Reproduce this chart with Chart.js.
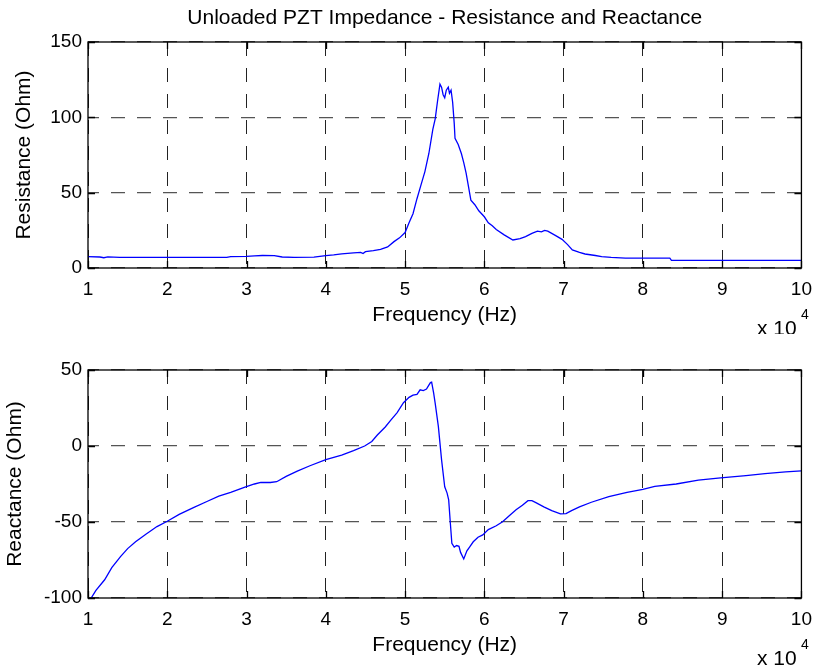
<!DOCTYPE html>
<html>
<head>
<meta charset="utf-8">
<script src="https://cdn.jsdelivr.net/npm/chart.js@4.4.1/dist/chart.umd.min.js"></script>
<style>
  html, body { margin: 0; padding: 0; background: #fff; }
  .panel { position: absolute; left: 0; width: 822px; height: 334px; }
</style>
</head>
<body>
<div class="panel" style="top:0"><canvas id="resChart" width="822" height="334"></canvas></div>
<div class="panel" style="top:334px"><canvas id="reacChart" width="822" height="334"></canvas></div>
<script>
// frequency in units of 10^4 Hz
const freqTicks = [1, 2, 3, 4, 5, 6, 7, 8, 9, 10];
const resTicks = [0, 50, 100, 150];
const reacTicks = [-100, -50, 0, 50];

const resFreq = [1.00, 1.15, 1.20, 1.25, 1.40, 1.60, 2.00, 2.40, 2.75, 2.80, 3.00, 3.10, 3.20, 3.35, 3.45, 3.60, 3.85, 4.00, 4.10, 4.20,
  4.35, 4.44, 4.47, 4.50, 4.60, 4.69, 4.78, 4.86, 4.93, 5.00, 5.05, 5.10, 5.15, 5.20, 5.25, 5.30, 5.35, 5.38, 5.41, 5.44,
  5.46, 5.48, 5.50, 5.52, 5.545, 5.56, 5.58, 5.60, 5.62, 5.63, 5.67, 5.71, 5.74, 5.77, 5.80, 5.83, 5.88, 5.93, 6.00, 6.05,
  6.10, 6.15, 6.25, 6.36, 6.45, 6.52, 6.60, 6.67, 6.72, 6.76, 6.80, 6.90, 6.98, 7.05, 7.11, 7.20, 7.27, 7.40, 7.48, 7.60,
  7.78, 8.00, 8.34, 8.36, 9.00, 10.00];
const resistance = [7.5, 7.3, 6.8, 7.4, 7.1, 7.0, 7.0, 7.0, 7.0, 7.5, 7.7, 8.0, 8.3, 8.2, 7.3, 7.0, 7.2, 8.2, 8.7, 9.4,
  10.1, 10.4, 9.6, 10.8, 11.5, 12.4, 14.0, 17.5, 20.0, 23.5, 30.0, 36.0, 46.0, 55.0, 64.0, 76.0, 92.0, 99.0, 111.0, 122.0,
  120.0, 115.0, 113.0, 118.0, 120.0, 116.0, 118.0, 110.0, 96.0, 86.0, 82.0, 76.0, 70.0, 63.0, 54.0, 45.0, 42.0, 38.0, 34.0, 30.0,
  28.0, 25.5, 22.0, 18.6, 19.5, 20.8, 23.0, 24.5, 24.0, 25.0, 24.5, 21.5, 19.0, 15.5, 12.0, 10.3, 9.3, 8.3, 7.6, 7.0,
  6.6, 6.5, 6.5, 5.1, 5.1, 5.1];

const reacFreq = [1.04, 1.10, 1.21, 1.30, 1.41, 1.50, 1.60, 1.73, 1.87, 2.00, 2.15, 2.33, 2.50, 2.65, 2.80, 2.98, 3.10, 3.18, 3.30, 3.38,
  3.50, 3.64, 3.80, 4.00, 4.20, 4.35, 4.49, 4.58, 4.65, 4.75, 4.82, 4.90, 4.98, 5.05, 5.10, 5.15, 5.19, 5.23, 5.27, 5.30,
  5.32, 5.335, 5.36, 5.38, 5.42, 5.46, 5.50, 5.53, 5.55, 5.57, 5.59, 5.62, 5.65, 5.68, 5.70, 5.74, 5.78, 5.82, 5.86, 5.92,
  5.98, 6.05, 6.15, 6.23, 6.30, 6.40, 6.48, 6.55, 6.60, 6.65, 6.75, 6.85, 6.96, 7.03, 7.10, 7.20, 7.35, 7.57, 7.80, 8.00,
  8.15, 8.42, 8.70, 8.98, 9.30, 9.54, 9.80, 10.00];
const reactance = [-100, -95, -88, -80, -72.8, -67.5, -63, -58, -53, -49.5, -45, -40.5, -36.5, -33, -30.5, -27, -25, -24, -24, -23.5,
  -20, -16.5, -13, -9, -6, -3, 0, 3, 7.2, 12.5, 17, 22, 28.5, 32, 33.5, 34, 37, 36.5, 37.5, 40,
  41.7, 42, 35, 28, 12.7, -9, -26.8, -31, -35.5, -50, -64, -66.5, -65.5, -66, -70, -74.3, -69, -66, -63, -60,
  -58.5, -55, -52.5, -49.8, -46.5, -42, -39, -36, -36, -37.3, -40, -42.5, -44.7, -44.5, -42.5, -40, -37, -33.3, -30.5, -28.5,
  -26.5, -25, -22.5, -21, -19.5, -18.2, -17, -16.3];

const chartTitle = 'Unloaded PZT Impedance - Resistance and Reactance';
const FONT = '"Liberation Sans", Arial, Helvetica, sans-serif';

Chart.defaults.font.family = FONT;
Chart.defaults.color = '#000';

// MATLAB style box, inward tick marks, title over the plot area and the "x 10^4" multiplier
const matlabAxes = {
    id: 'matlabAxes',
    afterDraw(chart, args, opts) {
        const { ctx, chartArea: a, scales } = chart;
        ctx.save();
        ctx.strokeStyle = '#000';
        ctx.lineWidth = 1.3;
        ctx.strokeRect(a.left, a.top, a.right - a.left, a.bottom - a.top);
        ctx.beginPath();
        scales.x.ticks.forEach(t => {
            const px = Math.round(scales.x.getPixelForValue(t.value)) + 0.5;
            ctx.moveTo(px, a.bottom); ctx.lineTo(px, a.bottom - 7);
            ctx.moveTo(px, a.top); ctx.lineTo(px, a.top + 7);
        });
        scales.y.ticks.forEach(t => {
            const py = Math.round(scales.y.getPixelForValue(t.value)) + 0.5;
            ctx.moveTo(a.left, py); ctx.lineTo(a.left + 7, py);
            ctx.moveTo(a.right, py); ctx.lineTo(a.right - 7, py);
        });
        ctx.stroke();

        ctx.fillStyle = '#000';
        ctx.textBaseline = 'middle';
        if (opts.title) {
            ctx.textAlign = 'center';
            ctx.font = '21px ' + FONT;
            ctx.fillText(opts.title, (a.left + a.right) / 2, 18);
        }
        ctx.textAlign = 'left';
        ctx.font = '21px ' + FONT;
        ctx.fillText('x 10', 757, a.bottom + 61);
        ctx.font = '14px ' + FONT;
        ctx.fillText('4', 801, a.bottom + 47);
        ctx.restore();
    }
};

const makeChart = (id, xs, ys, yTicks, yLabel, opts) => {
    const points = xs.map((f, i) => ({ x: f, y: ys[i] }));
    return new Chart(document.getElementById(id), {
        type: 'line',
        data: {
            datasets: [{
                data: points,
                borderColor: '#0000ff',
                borderWidth: 1.3,
                pointRadius: 0,
                tension: 0,
                fill: false
            }]
        },
        options: {
            responsive: false,
            animation: false,
            devicePixelRatio: 1,
            layout: { padding: { left: 0, right: 14, top: opts.padTop, bottom: 0 } },
            plugins: {
                legend: { display: false },
                tooltip: { enabled: false },
                title: { display: false },
                matlabAxes: { title: opts.title }
            },
            scales: {
                x: {
                    type: 'linear',
                    min: 1, max: 10,
                    afterBuildTicks: (s) => { s.ticks = freqTicks.map(v => ({ value: v })); },
                    afterFit: (s) => { s.height = opts.xHeight; },
                    ticks: { font: { size: 19 }, padding: 10, color: '#000' },
                    grid: { color: '#222', lineWidth: 1, drawTicks: false },
                    border: { display: false, dash: [14, 12], dashOffset: 0 },
                    title: {
                        display: true, text: 'Frequency (Hz)', color: '#000',
                        font: { size: 21 }, padding: { top: 0, bottom: opts.xTitlePad }
                    }
                },
                y: {
                    min: yTicks[0], max: yTicks[yTicks.length - 1],
                    afterBuildTicks: (s) => { s.ticks = yTicks.map(v => ({ value: v })); },
                    afterFit: (s) => { s.width = 88; },
                    ticks: { font: { size: 19 }, padding: 6, color: '#000' },
                    grid: { color: '#555', lineWidth: 1.3, drawTicks: false },
                    border: { display: false, dash: [14, 12], dashOffset: 3 },
                    title: {
                        display: true, text: yLabel, color: '#000',
                        font: { size: 21 }, padding: { top: opts.yTitlePad, bottom: 0 }
                    }
                }
            }
        },
        plugins: [matlabAxes]
    });
};

makeChart('resChart', resFreq, resistance, resTicks, 'Resistance (Ohm)', {
    title: chartTitle,
    padTop: 42, xHeight: 66, xTitlePad: 6, yTitlePad: 12
});
makeChart('reacChart', reacFreq, reactance, reacTicks, 'Reactance (Ohm)', {
    title: null,
    padTop: 36, xHeight: 70, xTitlePad: 10, yTitlePad: 2.5
});
</script>
</body>
</html>
